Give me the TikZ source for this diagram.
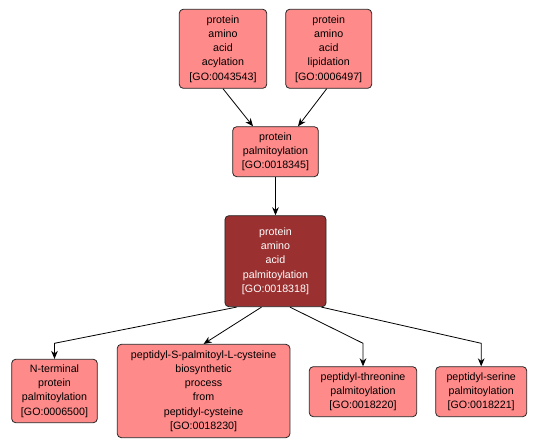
\documentclass[tikz,border=0pt]{standalone}
\usepackage{fontspec}
\setmainfont{Liberation Sans}
\usetikzlibrary{arrows.meta,calc}
\definecolor{termred}{HTML}{FF8A8A}
\definecolor{focusred}{HTML}{9B3030}

\begin{document}
\begin{tikzpicture}[x=0.75pt,y=-0.75pt,>={Stealth[length=6pt,width=5pt]},line width=0.6pt,
    term/.style={draw=black!85,fill=termred,rounded corners=3pt,align=center,inner sep=0pt,
                 font=\fontsize{8}{10.7}\selectfont},
    focus/.style={term,fill=focusred,text=white}]
        \useasboundingbox (0,0) rectangle (539,448);
        \node[term,minimum width=65.6pt,minimum height=59.3pt] (acyl) at (223,48.8)
            {protein\\amino\\acid\\acylation\\{[GO:0043543]}};
        \node[term,minimum width=64.5pt,minimum height=59.3pt] (lipid) at (328.7,48.8)
            {protein\\amino\\acid\\lipidation\\{[GO:0006497]}};
        \node[term,minimum width=64.2pt,minimum height=37.5pt] (palm) at (275.5,151.7)
            {protein\\palmitoylation\\{[GO:0018345]}};
        \node[focus,minimum width=75.8pt,minimum height=68.3pt] (aapalm) at (275.5,261.2)
            {protein\\amino\\acid\\palmitoylation\\{[GO:0018318]}};
        \node[term,minimum width=64.2pt,minimum height=47.6pt] (nterm) at (54.5,391)
            {N-terminal\\protein\\palmitoylation\\{[GO:0006500]}};
        \node[term,minimum width=129.5pt,minimum height=70pt] (cys) at (203.6,391)
            {peptidyl-S-palmitoyl-L-cysteine\\biosynthetic\\process\\from\\peptidyl-cysteine\\{[GO:0018230]}};
        \node[term,minimum width=80.6pt,minimum height=37.5pt] (thr) at (363,391.7)
            {peptidyl-threonine\\palmitoylation\\{[GO:0018220]}};
        \node[term,minimum width=68.3pt,minimum height=37.5pt] (ser) at (481.2,391.7)
            {peptidyl-serine\\palmitoylation\\{[GO:0018221]}};
        \coordinate (kink) at (0,343.3);

        \draw[->] (acyl.south) -- ($(palm.north)+(-22.5,0)$);
        \draw[->] ($(lipid.south)+(-2,0)$) -- ($(palm.north)+(22.5,0)$);
        \draw[->] (palm) -- (aapalm);
        \draw[->] ($(aapalm.south)+(-39,0)$) -- (nterm.north |- kink) -- (nterm.north);
        \draw[->] ($(aapalm.south)+(-14,0)$) -- (cys.north);
        \draw[->] ($(aapalm.south)+(14.5,0)$) -- (thr.north |- kink) -- (thr.north);
        \draw[->] ($(aapalm.south)+(46,0)$) -- (ser.north |- kink) -- (ser.north);
    \end{tikzpicture}
\end{document}
